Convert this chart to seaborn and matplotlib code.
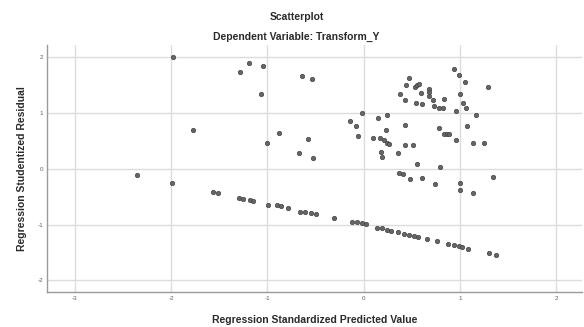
import seaborn as sns
import matplotlib.pyplot as plt
import pandas as pd

# Regression diagnostics: standardized predicted value vs studentized residual

# upper scatter
pred_upper = [-1.98, -1.28, -1.19, -1.05, -1.07, -1.77, -1.00, -0.88, -0.67, -0.64,
              -0.54, -0.58, -0.53, -0.14, -0.08, -0.02, -0.06, 0.15, 0.24, 0.23,
              0.10, 0.17, 0.21, 0.24, 0.26, 0.18, 0.19, 0.36, 0.43, 0.51,
              0.43, 0.56, 0.79, 0.78, 0.84, 0.87, 0.89, 0.96, 1.14, 1.25,
              1.08, 1.17, 0.37, 0.41, 0.48, 0.61, 0.74, 1.00, 1.00, 1.14,
              1.35, 0.94, 0.99, 1.05, 1.29, 0.47, 0.44, 0.53, 0.56, 0.58,
              0.38, 0.43, 0.60, 0.68, 0.68, 0.68, 0.54, 0.61, 0.72, 0.73,
              0.78, 0.83, 0.84, 1.00, 1.03, 1.06, 0.96]
resid_upper = [2.00, 1.74, 1.90, 1.85, 1.35, 0.69, 0.46, 0.64, 0.28, 1.67,
               1.61, 0.53, 0.20, 0.85, 0.77, 1.01, 0.59, 0.91, 0.97, 0.70,
               0.55, 0.55, 0.51, 0.47, 0.44, 0.31, 0.22, 0.28, 0.43, 0.43,
               0.79, 0.08, 0.04, 0.73, 0.62, 0.62, 0.62, 0.52, 0.46, 0.46,
               0.76, 0.97, -0.07, -0.09, -0.18, -0.17, -0.27, -0.25, -0.38, -0.43,
               -0.14, 1.80, 1.68, 1.56, 1.46, 1.63, 1.51, 1.46, 1.51, 1.53,
               1.34, 1.23, 1.36, 1.43, 1.37, 1.31, 1.19, 1.16, 1.23, 1.12,
               1.09, 1.09, 1.26, 1.35, 1.19, 1.09, 1.04]

# lower diagonal band
pred_lower = [-2.35, -1.99, -1.56, -1.51, -1.29, -1.25, -1.18, -1.15, -0.99, -0.90,
              -0.86, -0.79, -0.66, -0.61, -0.55, -0.49, -0.31, -0.12, -0.07, -0.02,
              0.03, 0.14, 0.19, 0.24, 0.29, 0.36, 0.42, 0.47, 0.52, 0.57,
              0.66, 0.76, 0.88, 0.94, 0.99, 1.02, 1.09, 1.30, 1.38]
resid_lower = [-0.11, -0.25, -0.41, -0.44, -0.53, -0.54, -0.56, -0.58, -0.64, -0.65,
               -0.67, -0.70, -0.77, -0.78, -0.80, -0.81, -0.89, -0.95, -0.96, -0.98,
               -0.99, -1.06, -1.07, -1.09, -1.12, -1.14, -1.17, -1.19, -1.21, -1.23,
               -1.26, -1.29, -1.35, -1.37, -1.39, -1.41, -1.43, -1.51, -1.55]

x_ticks = [-3, -2, -1, 0, 1, 2]
y_ticks = [-2, -1, 0, 1, 2]

df = pd.DataFrame({
    "pred": pred_upper + pred_lower,
    "resid": resid_upper + resid_lower,
})

sns.set_style("white")
plt.rcParams["font.family"] = ["Liberation Sans", "DejaVu Sans"]
plt.rcParams["axes.unicode_minus"] = False

fig = plt.figure(figsize=(5.84, 3.27), dpi=100)
ax = fig.add_axes([0.0805, 0.107, 0.916, 0.755])

sns.scatterplot(data=df, x="pred", y="resid", ax=ax, s=10,
                color="#666666", edgecolor="#444444", linewidth=0.5, zorder=3)

ax.set_xlim(-3.29, 2.27)
ax.set_ylim(-2.21, 2.22)
ax.set_xticks(x_ticks)
ax.set_yticks(y_ticks)
ax.grid(True, color="#dcdcdc", linewidth=1.0)
ax.tick_params(length=0, labelsize=4.5, labelcolor="#606060", pad=3)

for s in ["top", "right"]:
    ax.spines[s].set_visible(False)
for s in ["left", "bottom"]:
    ax.spines[s].set_color("#9a9a9a")
    ax.spines[s].set_linewidth(1.0)

ax.set_xlabel("")
ax.set_ylabel("")

fig.text(0.508, 0.949, "Scatterplot", ha="center", va="center",
         fontsize=7.5, fontweight="bold", color="#2a2a2a")
fig.text(0.508, 0.888, "Dependent Variable: Transform_Y", ha="center", va="center",
         fontsize=7.5, fontweight="bold", color="#2a2a2a")
fig.text(0.539, 0.021, "Regression Standardized Predicted Value", ha="center", va="center",
         fontsize=7.5, fontweight="bold", color="#2a2a2a")
fig.text(0.0377, 0.483, "Regression Studentized Residual", ha="center", va="center",
         rotation=90, fontsize=7.5, fontweight="bold", color="#2a2a2a")

fig.savefig("out.png", dpi=100)
plt.close(fig)
